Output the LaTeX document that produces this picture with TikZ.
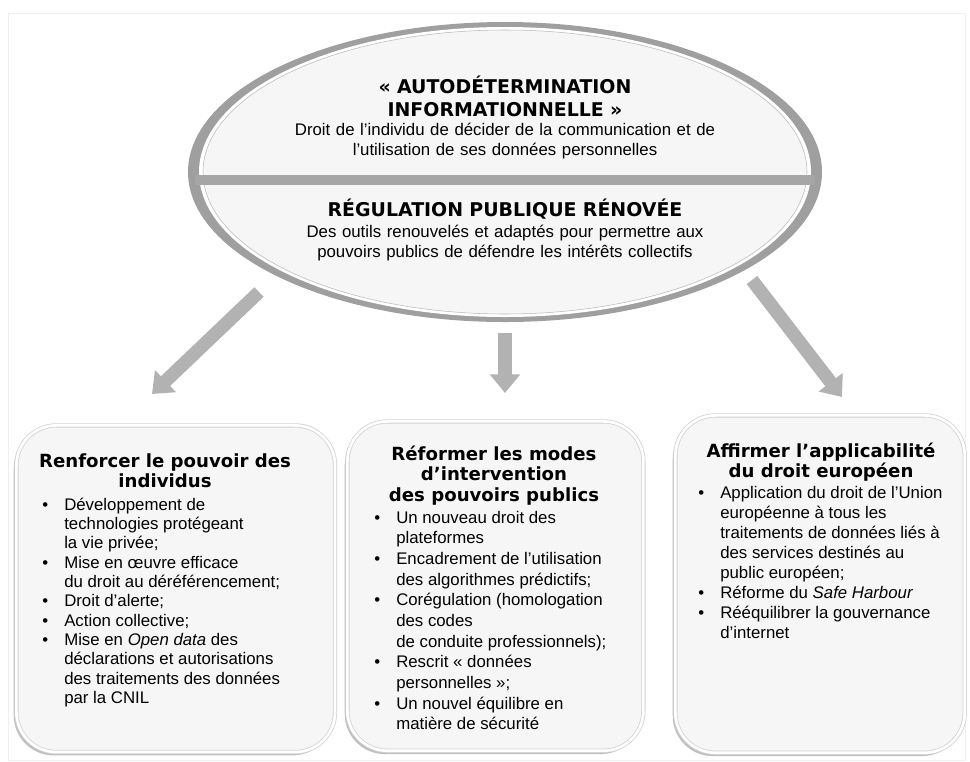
\documentclass[tikz,border=0pt]{standalone}
\usepackage{fontspec}
\setmainfont{Liberation Sans}
\newfontfamily\headfont{DejaVu Sans}
\usetikzlibrary{arrows.meta,shadows}

\newcommand\bul{\par\noindent\llap{\makebox[16.5pt][l]{•}}}
\newcommand\lst[1]{\begin{minipage}[t]{220pt}\raggedright\leftskip=16.5pt #1\end{minipage}}
\newcommand\ttl[1]{\begin{minipage}[t]{220pt}\centering #1\end{minipage}}

\begin{document}
\begin{tikzpicture}[x=0.75pt,y=-0.75pt,
  head/.style={font=\headfont\bfseries\fontsize{14.2}{17.25}\selectfont,text width=340pt,align=center,inner sep=0pt,anchor=base},
  desc/.style={font=\fontsize{12.6}{15}\selectfont,text width=340pt,align=center,inner sep=0pt,anchor=base},
  panel/.style={draw=gray!35,line width=0.6pt,double=white,double distance=2pt,fill=gray!7,rounded corners=30pt,
    anchor=north west,drop shadow={shadow xshift=-2pt,shadow yshift=-2.5pt,fill=gray!50,opacity=1}},
  boxtitle/.style={font=\headfont\bfseries\fontsize{13.6}{15.5}\selectfont,inner sep=0pt,anchor=base},
  itemlist/.style={inner sep=0pt,anchor=base west},
  bigarrow/.style={line width=10pt,gray!60,-{Triangle[width=22pt,length=14pt]}}]
  \useasboundingbox (0,0) rectangle (970,761);
  \draw[gray!12] (8,13) rectangle (965,760);

  % ellipse
  \coordinate (vision) at (505,172);
  \fill[gray!75] (vision) ellipse [x radius=317, y radius=150];
  \fill[white] (vision) ellipse [x radius=306, y radius=145];
  \draw[gray!55,fill=gray!7] (vision) ellipse [x radius=302, y radius=142];
  \draw[line width=7.5pt,gray!70] (195,180) -- (815,180);
  \node[head] (autodet) at (505,93) {« AUTODÉTERMINATION\\INFORMATIONNELLE »};
  \node[desc] (autodetdesc) at (505,135) {Droit de l’individu de décider de la communication et de\\l’utilisation de ses données personnelles};
  \node[head] (regul) at (505,216) {RÉGULATION PUBLIQUE RÉNOVÉE};
  \node[desc] (reguldesc) at (505,237) {Des outils renouvelés et adaptés pour permettre aux\\pouvoirs publics de défendre les intérêts collectifs};

  % arrows
  \coordinate (ltail) at (259,292); \coordinate (lhead) at (152,394);
  \coordinate (mtail) at (505,333); \coordinate (mhead) at (505,393);
  \coordinate (rtail) at (752,280); \coordinate (rhead) at (842,397);
  \draw[bigarrow] (ltail) -- (lhead);
  \draw[bigarrow] (mtail) -- (mhead);
  \draw[bigarrow] (rtail) -- (rhead);

  % boxes
  \node[panel,minimum width=239pt,minimum height=245pt] (individus) at (16,425) {};
  \node[panel,minimum width=222pt,minimum height=247pt] (pouvoirs) at (347,421) {};
  \node[panel,minimum width=217pt,minimum height=253pt] (europe) at (675,415) {};

  \node[boxtitle] (individust) at (165,467) {\ttl{Renforcer le pouvoir des\\individus}};
  \node[itemlist,font=\fontsize{12.6}{14.5}\selectfont] (individusl) at (42,510) {\lst{%
    \bul Développement de\\technologies protégeant\\la vie privée;
    \bul Mise en œuvre efficace\\du droit au déréférencement;
    \bul Droit d’alerte;
    \bul Action collective;
    \bul Mise en \textit{Open data} des\\déclarations et autorisations\\des traitements des données\\par la CNIL}};

  \node[boxtitle] (pouvoirst) at (494,460) {\ttl{Réformer les modes\\d’intervention\\des pouvoirs publics}};
  \node[itemlist,font=\fontsize{12.6}{15.5}\selectfont] (pouvoirsl) at (374,523) {\lst{%
    \bul Un nouveau droit des\\plateformes
    \bul Encadrement de l’utilisation\\des algorithmes prédictifs;
    \bul Corégulation (homologation\\des codes\\de conduite professionnels);
    \bul Rescrit « données\\personnelles »;
    \bul Un nouvel équilibre en\\matière de sécurité}};

  \node[boxtitle] (europet) at (821,457) {\ttl{Affirmer l’applicabilité\\du droit européen}};
  \node[itemlist,font=\fontsize{12.6}{15}\selectfont] (europel) at (698,498) {\lst{%
    \bul Application du droit de l’Union\\européenne à tous les\\traitements de données liés à\\des services destinés au\\public européen;
    \bul Réforme du \textit{Safe Harbour}
    \bul Rééquilibrer la gouvernance\\d’internet}};
\end{tikzpicture}
\end{document}
